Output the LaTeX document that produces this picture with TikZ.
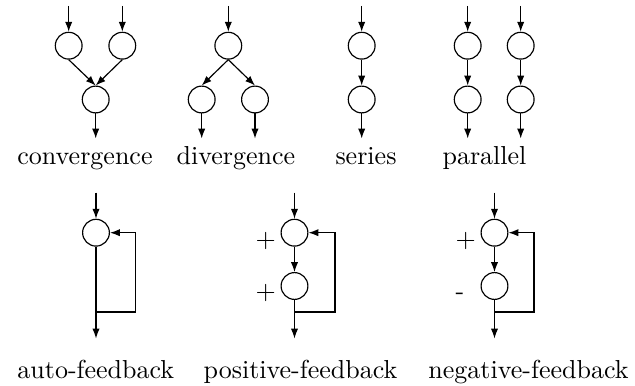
\documentclass[tikz,border=0pt]{standalone}
\usetikzlibrary{arrows.meta}
\begin{document}
\begin{tikzpicture}[x=0.3846pt,y=-0.3846pt,
  blob/.style={draw,circle,minimum size=10.3pt,inner sep=0pt,line width=0.45pt},
  flow/.style={-{Latex[length=3.8pt,width=2.8pt]},line width=0.45pt},
  wire/.style={line width=0.45pt},
  lbl/.style={anchor=base,inner sep=0pt},
  sgn/.style={anchor=base west,inner sep=0pt}]
\useasboundingbox (0,0) rectangle (635,386);
% ---------- convergence
\node[blob] (c1) at (68.7,45.7) {};
\node[blob] (c2) at (122.3,45.7) {};
\node[blob] (c3) at (95.7,99.5) {};
\coordinate (c1i) at (68.7,6);
\coordinate (c2i) at (122.3,6);
\coordinate (c3o) at (95.7,138.5);
\draw[flow] (c1i) -- (c1);
\draw[flow] (c2i) -- (c2);
\draw[flow] (c1.south) -- (c3.north);
\draw[flow] (c2.south) -- (c3.north);
\draw[flow] (c3) -- (c3o);
\node[lbl] (lc) at (85,165) {convergence};
% ---------- divergence
\node[blob] (d1) at (228.3,45.7) {};
\node[blob] (d2) at (201.7,99.5) {};
\node[blob] (d3) at (255,99.5) {};
\coordinate (d1i) at (228.3,6);
\coordinate (d2o) at (201.7,138.5);
\coordinate (d3o) at (255,138.5);
\draw[flow] (d1i) -- (d1);
\draw[flow] (d1.south) -- (d2.north);
\draw[flow] (d1.south) -- (d3.north);
\draw[flow] (d2) -- (d2o);
\draw[flow] (d3) -- (d3o);
\node[lbl] (ld) at (236,165) {divergence};
% ---------- series
\node[blob] (s1) at (361.7,45.7) {};
\node[blob] (s2) at (361.7,99.5) {};
\coordinate (s1i) at (361.7,6);
\coordinate (s2o) at (361.7,138.5);
\draw[flow] (s1i) -- (s1);
\draw[flow] (s1) -- (s2);
\draw[flow] (s2) -- (s2o);
\node[lbl] (ls) at (366,165) {series};
% ---------- parallel
\node[blob] (p1) at (467.7,45.7) {};
\node[blob] (p2) at (467.7,99.5) {};
\node[blob] (p3) at (520.7,45.7) {};
\node[blob] (p4) at (520.7,99.5) {};
\coordinate (p1i) at (467.7,6);
\coordinate (p3i) at (520.7,6);
\coordinate (p2o) at (467.7,138.5);
\coordinate (p4o) at (520.7,138.5);
\draw[flow] (p1i) -- (p1);
\draw[flow] (p1) -- (p2);
\draw[flow] (p2) -- (p2o);
\draw[flow] (p3i) -- (p3);
\draw[flow] (p3) -- (p4);
\draw[flow] (p4) -- (p4o);
\node[lbl] (lp) at (484.5,165) {parallel};
% ---------- auto-feedback
\node[blob] (a1) at (96,232.7) {};
\coordinate (a1i) at (96,192.7);
\coordinate (a1o) at (96,338.5);
\coordinate (a1j) at (96,312);
\coordinate (a1r) at (135.7,312);
\draw[flow] (a1i) -- (a1);
\draw[flow] (a1) -- (a1o);
\draw[flow] (a1j) -- (a1r) |- (a1.east);
\node[lbl] (la) at (95.8,378.3) {auto-feedback};
% ---------- positive-feedback
\node[blob] (q1) at (294.5,232.7) {};
\node[blob] (q2) at (294.5,286) {};
\coordinate (q1i) at (294.5,192.7);
\coordinate (q2o) at (294.5,338.5);
\coordinate (q2j) at (294.5,312);
\coordinate (q2r) at (335,312);
\draw[flow] (q1i) -- (q1);
\draw[flow] (q1) -- (q2);
\draw[flow] (q2) -- (q2o);
\draw[flow] (q2j) -- (q2r) |- (q1.east);
\node[sgn] (qs1) at (255,247.5) {+};
\node[sgn] (qs2) at (255,299.2) {+};
\node[lbl] (lq) at (300.5,378.3) {positive-feedback};
% ---------- negative-feedback
\node[blob] (n1) at (494.5,232.7) {};
\node[blob] (n2) at (494.5,286) {};
\coordinate (n1i) at (494.5,192.7);
\coordinate (n2o) at (494.5,338.5);
\coordinate (n2j) at (494.5,312);
\coordinate (n2r) at (534,312);
\draw[flow] (n1i) -- (n1);
\draw[flow] (n1) -- (n2);
\draw[flow] (n2) -- (n2o);
\draw[flow] (n2j) -- (n2r) |- (n1.east);
\node[sgn] (ns1) at (455,247.5) {+};
\node[sgn] (ns2) at (455,299.2) {-};
\node[lbl] (ln) at (528.5,378.3) {negative-feedback};
\end{tikzpicture}
\end{document}
